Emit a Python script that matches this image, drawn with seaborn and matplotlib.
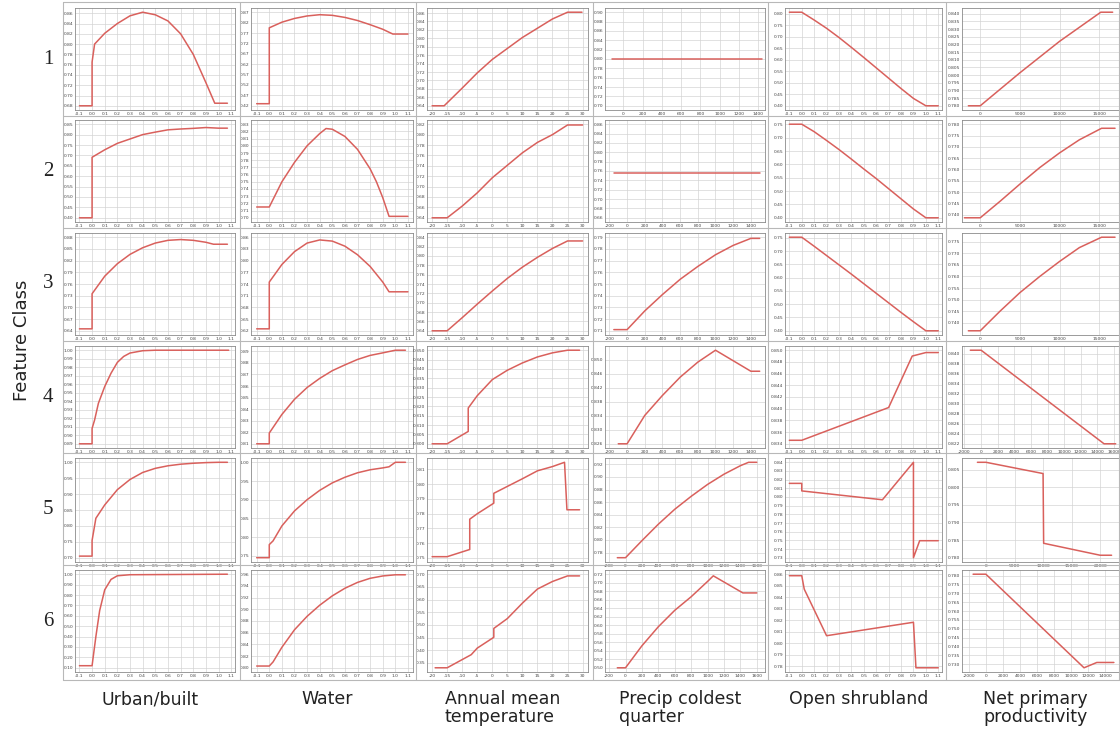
import numpy as np
import pandas as pd
import matplotlib
matplotlib.use("Agg")
import matplotlib.pyplot as plt
from matplotlib.lines import Line2D
import seaborn as sns

sns.set_theme(style="white")
plt.rcParams['font.family'] = ['DejaVu Sans']

COLUMNS = ["Urban/built", "Water", "Annual mean\ntemperature",
           "Precip coldest\nquarter", "Open shrubland", "Net primary\nproductivity"]
ROWS = ["1", "2", "3", "4", "5", "6"]

# ---------------- Urban/built ----------------
URBAN_X = [
    [-0.1, 0.0, 0.0, 0.02, 0.1, 0.2, 0.3, 0.4, 0.5, 0.6, 0.7, 0.8, 0.9, 0.97, 1.07],
    [-0.1, 0.0, 0.0, 0.1, 0.2, 0.3, 0.4, 0.5, 0.6, 0.7, 0.8, 0.9, 1.0, 1.07],
    [-0.1, 0.0, 0.0, 0.1, 0.2, 0.3, 0.4, 0.5, 0.6, 0.7, 0.8, 0.9, 0.96, 1.07],
    [-0.1, 0.0, 0.0, 0.02, 0.05, 0.1, 0.15, 0.2, 0.25, 0.3, 0.4, 0.5, 1.08],
    [-0.1, 0.0, 0.0, 0.03, 0.1, 0.2, 0.3, 0.4, 0.5, 0.6, 0.7, 0.8, 0.9, 1.0, 1.07],
    [-0.1, 0.0, 0.03, 0.06, 0.1, 0.15, 0.2, 0.3, 1.07],
]
URBAN_Y = [
    [0.68, 0.68, 0.765, 0.80, 0.821, 0.840, 0.855, 0.862, 0.857, 0.845, 0.82, 0.78, 0.725, 0.685, 0.685],
    [0.40, 0.40, 0.691, 0.727, 0.758, 0.779, 0.80, 0.812, 0.823, 0.827, 0.830, 0.834, 0.831, 0.831],
    [0.645, 0.645, 0.735, 0.78, 0.812, 0.836, 0.853, 0.865, 0.872, 0.874, 0.872, 0.867, 0.862, 0.862],
    [0.89, 0.89, 0.908, 0.918, 0.9376, 0.9573, 0.973, 0.9857, 0.9927, 0.9967, 0.9994, 1.0, 1.0],
    [0.705, 0.705, 0.754, 0.824, 0.866, 0.914, 0.946, 0.968, 0.981, 0.989, 0.994, 0.997, 0.999, 1.0, 1.0],
    [0.12, 0.12, 0.40, 0.65, 0.85, 0.95, 0.985, 0.995, 1.0],
]
URBAN_YTICKS = [
    [0.68, 0.70, 0.72, 0.74, 0.76, 0.78, 0.80, 0.82, 0.84, 0.86],
    [0.40, 0.45, 0.50, 0.55, 0.60, 0.65, 0.70, 0.75, 0.80, 0.85],
    [0.64, 0.67, 0.70, 0.73, 0.76, 0.79, 0.82, 0.85, 0.88],
    [0.89, 0.90, 0.91, 0.92, 0.93, 0.94, 0.95, 0.96, 0.97, 0.98, 0.99, 1.00],
    [0.70, 0.75, 0.80, 0.85, 0.90, 0.95, 1.00],
    [0.1, 0.2, 0.3, 0.4, 0.5, 0.6, 0.7, 0.8, 0.9, 1.0],
]

# ---------------- Water ----------------
WATER_X = [
    [-0.1, 0.0, 0.0, 0.1, 0.2, 0.3, 0.4, 0.5, 0.6, 0.7, 0.8, 0.9, 0.98, 1.1],
    [-0.1, 0.0, 0.1, 0.2, 0.3, 0.4, 0.45, 0.5, 0.6, 0.7, 0.8, 0.85, 0.9, 0.95, 1.1],
    [-0.1, 0.0, 0.0, 0.1, 0.2, 0.3, 0.4, 0.5, 0.6, 0.7, 0.8, 0.9, 0.95, 1.1],
    [-0.1, 0.0, 0.0, 0.1, 0.2, 0.3, 0.4, 0.5, 0.6, 0.7, 0.8, 0.9, 1.0, 1.08],
    [-0.1, 0.0, 0.0, 0.03, 0.1, 0.2, 0.3, 0.4, 0.5, 0.6, 0.7, 0.8, 0.9, 0.95, 1.0, 1.08],
    [-0.1, 0.0, 0.03, 0.1, 0.2, 0.3, 0.4, 0.5, 0.6, 0.7, 0.8, 0.9, 1.0, 1.08],
]
WATER_Y = [
    [0.43, 0.43, 0.795, 0.822, 0.840, 0.852, 0.858, 0.855, 0.845, 0.83, 0.81, 0.788, 0.765, 0.765],
    [0.715, 0.715, 0.750, 0.777, 0.80, 0.817, 0.824, 0.823, 0.813, 0.795, 0.768, 0.75, 0.728, 0.702, 0.702],
    [0.625, 0.625, 0.745, 0.79, 0.823, 0.845, 0.853, 0.85, 0.837, 0.815, 0.785, 0.745, 0.72, 0.72],
    [0.81, 0.81, 0.8193, 0.8354, 0.8485, 0.8587, 0.8666, 0.8733, 0.8783, 0.883, 0.8865, 0.8887, 0.891, 0.891],
    [0.745, 0.745, 0.78, 0.79, 0.83, 0.87, 0.90, 0.925, 0.945, 0.96, 0.972, 0.98, 0.985, 0.988, 1.0, 1.0],
    [0.803, 0.803, 0.81, 0.835, 0.865, 0.888, 0.907, 0.923, 0.936, 0.946, 0.953, 0.957, 0.959, 0.959],
]
WATER_YTICKS = [
    [0.42, 0.47, 0.52, 0.57, 0.62, 0.67, 0.72, 0.77, 0.82, 0.87],
    [0.70, 0.71, 0.72, 0.73, 0.74, 0.75, 0.76, 0.77, 0.78, 0.79, 0.80, 0.81, 0.82, 0.83],
    [0.62, 0.65, 0.68, 0.71, 0.74, 0.77, 0.80, 0.83, 0.86],
    [0.81, 0.82, 0.83, 0.84, 0.85, 0.86, 0.87, 0.88, 0.89],
    [0.75, 0.80, 0.85, 0.90, 0.95, 1.00],
    [0.80, 0.82, 0.84, 0.86, 0.88, 0.90, 0.92, 0.94, 0.96],
]

# ---------------- Annual mean temperature ----------------
TEMP_X = [
    [-20, -16, -10, -5, 0, 5, 10, 15, 20, 25, 29.8],
    [-20, -15, -10, -5, 0, 5, 10, 15, 20, 25, 30],
    [-20, -15, -10, -5, 0, 5, 10, 15, 20, 25, 30],
    [-20, -15, -8, -8, -5, 0, 5, 10, 15, 20, 25, 29],
    [-20, -15, -7.5, -7.5, -5, 0.5, 0.5, 5, 10, 15, 20, 24, 24.8, 29],
    [-19, -15, -10, -7, -5, 0.5, 0.5, 5, 10, 15, 20, 25, 29],
]
TEMP_Y = [
    [0.64, 0.64, 0.682, 0.718, 0.75, 0.776, 0.802, 0.824, 0.846, 0.862, 0.862],
    [0.64, 0.64, 0.6625, 0.688, 0.717, 0.741, 0.765, 0.785, 0.80, 0.8185, 0.8185],
    [0.64, 0.64, 0.668, 0.697, 0.725, 0.752, 0.776, 0.797, 0.816, 0.832, 0.832],
    [0.80, 0.80, 0.8066, 0.8191, 0.8257, 0.8343, 0.8393, 0.8432, 0.8464, 0.8486, 0.85, 0.85],
    [0.7507, 0.7507, 0.7556, 0.7762, 0.7799, 0.7871, 0.7938, 0.7985, 0.8037, 0.8091, 0.812, 0.8149, 0.7826, 0.7826],
    [0.3306, 0.3306, 0.363, 0.3824, 0.4083, 0.451, 0.486, 0.5249, 0.5858, 0.6415, 0.6713, 0.6933, 0.6933],
]
TEMP_XTICKS = [-20, -15, -10, -5, 0, 5, 10, 15, 20, 25, 30]
TEMP_YTICKS = [
    [0.64, 0.66, 0.68, 0.70, 0.72, 0.74, 0.76, 0.78, 0.80, 0.82, 0.84, 0.86],
    [0.64, 0.66, 0.68, 0.70, 0.72, 0.74, 0.76, 0.78, 0.80, 0.82],
    [0.64, 0.66, 0.68, 0.70, 0.72, 0.74, 0.76, 0.78, 0.80, 0.82, 0.84],
    [0.800, 0.805, 0.810, 0.815, 0.820, 0.825, 0.830, 0.835, 0.840, 0.845, 0.850],
    [0.75, 0.76, 0.77, 0.78, 0.79, 0.80, 0.81],
    [0.35, 0.40, 0.45, 0.50, 0.55, 0.60, 0.65, 0.70],
]

# ---------------- Precip coldest quarter ----------------
PRECIP_X = [
    [-120, 1440],
    [-150, 1500],
    [-150, 0, 200, 400, 600, 800, 1000, 1200, 1400, 1500],
    [-100, 0, 200, 400, 600, 800, 1000, 1400, 1500],
    [-100, 0, 200, 400, 600, 800, 1000, 1200, 1400, 1500, 1600],
    [-100, 0, 200, 400, 600, 800, 1000, 1070, 1430, 1600],
]
PRECIP_Y = [
    [0.801, 0.801],
    [0.755, 0.755],
    [0.711, 0.711, 0.727, 0.741, 0.754, 0.765, 0.775, 0.783, 0.789, 0.789],
    [0.826, 0.826, 0.8341, 0.8398, 0.845, 0.8493, 0.8527, 0.8467, 0.8467],
    [0.7719, 0.7719, 0.7989, 0.825, 0.8487, 0.8692, 0.8881, 0.9043, 0.9178, 0.9232, 0.9232],
    [0.50, 0.50, 0.5517, 0.5965, 0.6351, 0.667, 0.703, 0.7162, 0.676, 0.676],
]
PRECIP_XTICKS = [
    [0, 200, 400, 600, 800, 1000, 1200, 1400],
    [-200, 0, 200, 400, 600, 800, 1000, 1200, 1400],
    [-200, 0, 200, 400, 600, 800, 1000, 1200, 1400],
    [-200, 0, 200, 400, 600, 800, 1000, 1200, 1400],
    [-200, 0, 200, 400, 600, 800, 1000, 1200, 1400, 1600],
    [-200, 0, 200, 400, 600, 800, 1000, 1200, 1400, 1600],
]
PRECIP_YTICKS = [
    [0.70, 0.72, 0.74, 0.76, 0.78, 0.80, 0.82, 0.84, 0.86, 0.88, 0.90],
    [0.66, 0.68, 0.70, 0.72, 0.74, 0.76, 0.78, 0.80, 0.82, 0.84, 0.86],
    [0.71, 0.72, 0.73, 0.74, 0.75, 0.76, 0.77, 0.78, 0.79],
    [0.826, 0.830, 0.834, 0.838, 0.842, 0.846, 0.850],
    [0.78, 0.80, 0.82, 0.84, 0.86, 0.88, 0.90, 0.92],
    [0.50, 0.52, 0.54, 0.56, 0.58, 0.60, 0.62, 0.64, 0.66, 0.68, 0.70, 0.72],
]

# ---------------- Open shrubland ----------------
SHRUB_X = [
    [-0.1, 0.0, 0.1, 0.2, 0.3, 0.4, 0.5, 0.6, 0.7, 0.8, 0.9, 1.0, 1.1],
    [-0.1, 0.0, 0.1, 0.2, 0.3, 0.4, 0.5, 0.6, 0.7, 0.8, 0.9, 1.0, 1.1],
    [-0.1, 0.0, 0.1, 0.2, 0.3, 0.4, 0.5, 0.6, 0.7, 0.8, 0.9, 1.0, 1.1],
    [-0.1, 0.0, 0.7, 0.89, 1.0, 1.1],
    [-0.1, 0.0, 0.0, 0.65, 0.9, 0.9, 0.95, 1.1],
    [-0.1, 0.0, 0.02, 0.2, 0.9, 0.92, 1.1],
]
SHRUB_Y = [
    [0.807, 0.807, 0.773, 0.737, 0.697, 0.654, 0.61, 0.565, 0.52, 0.475, 0.432, 0.40, 0.40],
    [0.751, 0.751, 0.723, 0.690, 0.656, 0.620, 0.583, 0.547, 0.509, 0.471, 0.433, 0.40, 0.40],
    [0.752, 0.752, 0.718, 0.683, 0.648, 0.613, 0.577, 0.541, 0.505, 0.469, 0.434, 0.40, 0.40],
    [0.8346, 0.8346, 0.8402, 0.8490, 0.8496, 0.8496],
    [0.8157, 0.8157, 0.807, 0.7968, 0.84, 0.73, 0.7496, 0.7496],
    [0.8587, 0.8587, 0.847, 0.8065, 0.8182, 0.7786, 0.7786],
]
SHRUB_YTICKS = [
    [0.40, 0.45, 0.50, 0.55, 0.60, 0.65, 0.70, 0.75, 0.80],
    [0.40, 0.45, 0.50, 0.55, 0.60, 0.65, 0.70, 0.75],
    [0.40, 0.45, 0.50, 0.55, 0.60, 0.65, 0.70, 0.75],
    [0.834, 0.836, 0.838, 0.840, 0.842, 0.844, 0.846, 0.848, 0.850],
    [0.73, 0.74, 0.75, 0.76, 0.77, 0.78, 0.79, 0.80, 0.81, 0.82, 0.83, 0.84],
    [0.78, 0.79, 0.80, 0.81, 0.82, 0.83, 0.84, 0.85, 0.86],
]

# ---------------- Net primary productivity ----------------
NPP_X = [
    [-1500, 0, 5000, 10000, 15200, 16700],
    [-2000, 0, 2500, 5000, 7500, 10000, 12500, 15300, 17000],
    [-1500, 0, 2500, 5000, 7500, 10000, 12500, 15300, 17000],
    [-1300, 0, 14800, 16200],
    [-1500, 0, 10000, 10100, 20000, 22000],
    [-1500, 0, 11500, 13000, 15000],
]
NPP_Y = [
    [0.78, 0.78, 0.8015, 0.822, 0.841, 0.841],
    [0.7386, 0.7386, 0.7459, 0.7535, 0.7608, 0.7673, 0.7731, 0.7782, 0.7782],
    [0.7365, 0.7365, 0.745, 0.753, 0.760, 0.7665, 0.7725, 0.777, 0.777],
    [0.8407, 0.8407, 0.822, 0.822],
    [0.8071, 0.8071, 0.8039, 0.7841, 0.7807, 0.7807],
    [0.7808, 0.7808, 0.728, 0.731, 0.731],
]
NPP_XTICKS = [
    [0, 5000, 10000, 15000],
    [0, 5000, 10000, 15000],
    [0, 5000, 10000, 15000],
    [-2000, 0, 2000, 4000, 6000, 8000, 10000, 12000, 14000, 16000],
    [0, 5000, 10000, 15000, 20000],
    [-2000, 0, 2000, 4000, 6000, 8000, 10000, 12000, 14000],
]
NPP_XLIM = [(-2300, 17500), (-2300, 17500), (-2300, 17500),
            (-2300, 16600), (-4200, 23300), (-2800, 15600)]
NPP_YTICKS = [
    [0.780, 0.785, 0.790, 0.795, 0.800, 0.805, 0.810, 0.815, 0.820, 0.825, 0.830, 0.835, 0.840],
    [0.740, 0.745, 0.750, 0.755, 0.760, 0.765, 0.770, 0.775, 0.780],
    [0.740, 0.745, 0.750, 0.755, 0.760, 0.765, 0.770, 0.775],
    [0.822, 0.824, 0.826, 0.828, 0.830, 0.832, 0.834, 0.836, 0.838, 0.840],
    [0.780, 0.785, 0.790, 0.795, 0.800, 0.805],
    [0.730, 0.735, 0.740, 0.745, 0.750, 0.755, 0.760, 0.765, 0.770, 0.775, 0.780],
]

FRAC_XTICKS = [-0.1, 0.0, 0.1, 0.2, 0.3, 0.4, 0.5, 0.6, 0.7, 0.8, 0.9, 1.0, 1.1]

# ---------------- layout (pixels) ----------------
W, H = 1120, 738
COL_PLOT = [(75, 235), (251, 413), (427, 588), (605, 765), (785, 942), (962, 1119)]
ROW_PLOT = [(8, 110), (120, 222), (233, 335), (346, 448), (458, 562), (570, 672)]
COL_SEP = [63, 240, 416, 593, 768, 946, 1119]
ROW_SEP = [2, 116, 228, 341, 453, 565, 680]
RED = "#d9605c"

fig = plt.figure(figsize=(W / 100, H / 100), dpi=100)
fig.patch.set_facecolor("white")


def add_ax(l, t, r, b):
    return fig.add_axes([l / W, 1 - b / H, (r - l) / W, (b - t) / H])


def decimals(ticks):
    step = abs(ticks[1] - ticks[0])
    d = 0
    while d < 4 and abs(round(step * 10 ** d) - step * 10 ** d) > 1e-6:
        d += 1
    return max(d, 2) if step < 1 else 0


panels = []
for r in range(6):
    panels.append([
        (URBAN_X[r], URBAN_Y[r], FRAC_XTICKS, URBAN_YTICKS[r], (-0.135, 1.13), 1),
        (WATER_X[r], WATER_Y[r], FRAC_XTICKS, WATER_YTICKS[r], (-0.145, 1.14), 1),
        (TEMP_X[r], TEMP_Y[r], TEMP_XTICKS, TEMP_YTICKS[r], (-21.7, 31.8), 0),
        (PRECIP_X[r], PRECIP_Y[r], PRECIP_XTICKS[r], PRECIP_YTICKS[r],
         (-190, 1470) if r < 1 else ((-250, 1560) if r < 4 else (-250, 1700)), 0),
        (SHRUB_X[r], SHRUB_Y[r], FRAC_XTICKS, SHRUB_YTICKS[r], (-0.135, 1.13), 1),
        (NPP_X[r], NPP_Y[r], NPP_XTICKS[r], NPP_YTICKS[r], NPP_XLIM[r], 0),
    ])

for r in range(6):
    for c in range(6):
        xs, ys, xt, yt, xlim, xdec = panels[r][c]
        l, rr = COL_PLOT[c]
        t, b = ROW_PLOT[r]
        ax = add_ax(l, t, rr, b)
        df = pd.DataFrame({"x": xs, "y": ys})
        sns.lineplot(data=df, x="x", y="y", ax=ax, color=RED, linewidth=1.1,
                     sort=False, estimator=None)
        lo = min(min(yt), min(ys))
        hi = max(max(yt), max(ys))
        pad = (hi - lo) * 0.045
        ax.set_ylim(lo - pad, hi + pad)
        ax.set_xlim(*xlim)
        ax.set_xticks(xt)
        ax.set_xticklabels([f"{v:.{xdec}f}" if xdec else f"{v:g}" for v in xt])
        ax.set_yticks(yt)
        yd = decimals(yt)
        ax.set_yticklabels([f"{v:.{yd}f}" for v in yt])
        ax.tick_params(axis="both", length=0, pad=1.2, labelsize=3.2, colors="#444444")
        ax.grid(True, color="#d4d4d4", linewidth=0.5)
        ax.set_xlabel("")
        ax.set_ylabel("")
        ax.set_facecolor("white")
        for s in ax.spines.values():
            s.set_color("#8a8a8a")
            s.set_linewidth(0.6)

# panel separators
for x in COL_SEP:
    fig.add_artist(Line2D([x / W, x / W], [1 - ROW_SEP[0] / H, 1 - ROW_SEP[-1] / H],
                          color="#b8b8b8", linewidth=0.8))
for y in ROW_SEP:
    fig.add_artist(Line2D([COL_SEP[0] / W, COL_SEP[-1] / W], [1 - y / H, 1 - y / H],
                          color="#b8b8b8", linewidth=0.8))

# row labels
for r, lab in enumerate(ROWS):
    t, b = ROW_PLOT[r]
    fig.text(48 / W, 1 - ((t + b) / 2) / H, lab, ha="center", va="center",
             fontsize=15, family="Liberation Serif", color="#222222")

fig.text(22 / W, 1 - 340 / H, "Feature Class", rotation=90, ha="center", va="center",
         fontsize=13, color="#222222")

# column labels
for c, lab in enumerate(COLUMNS):
    l, rr = COL_PLOT[c]
    fig.text(((l + rr) / 2 - 5) / W, 1 - 690 / H, lab, ha="center", va="top",
             multialignment="left", fontsize=12.5, color="#222222", linespacing=1.0)

fig.savefig("out.png", dpi=100, facecolor="white")
